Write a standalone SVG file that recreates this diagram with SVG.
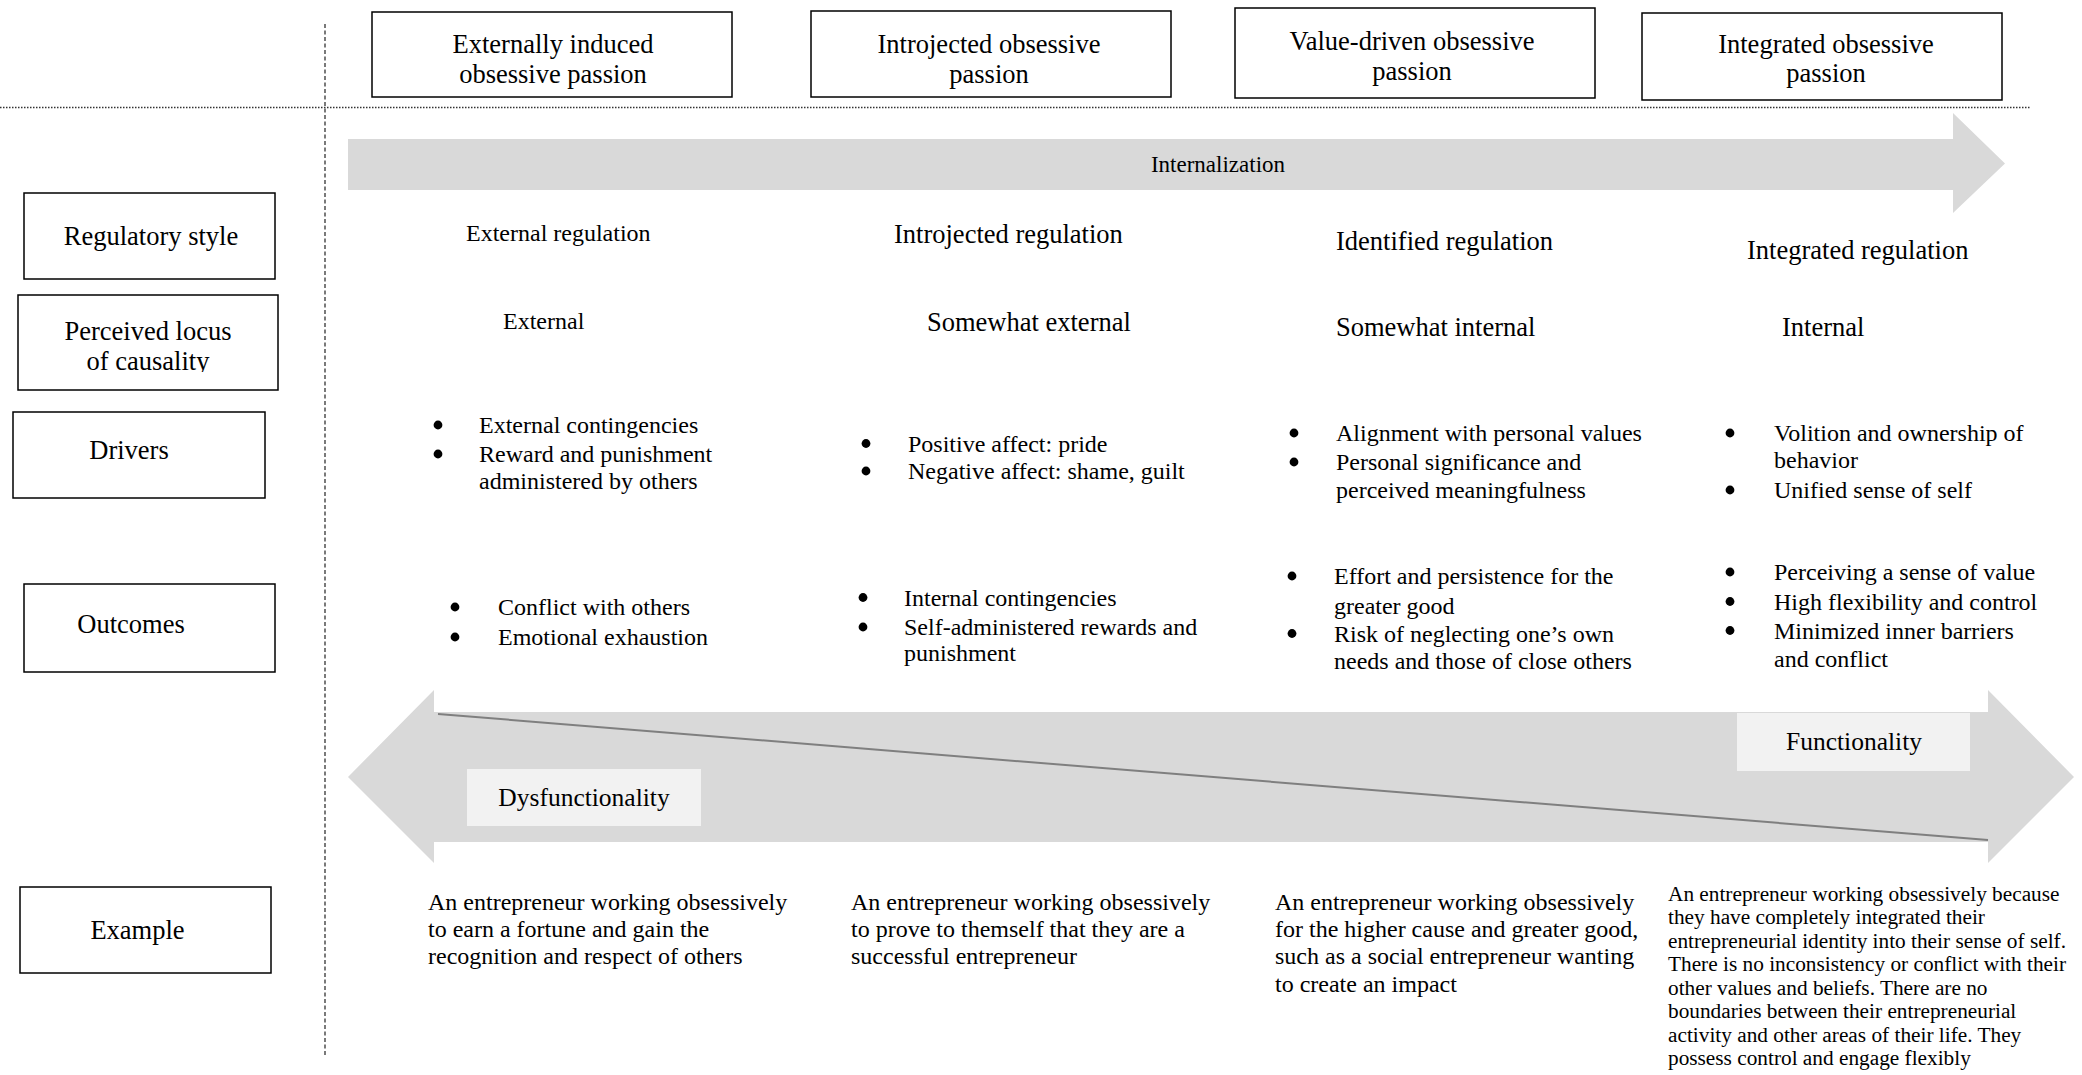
<svg xmlns="http://www.w3.org/2000/svg" width="2082" height="1075" viewBox="0 0 2082 1075">
<style>
  text { font-family: "Liberation Serif", "Times New Roman", serif; fill: #000; }
  .box { fill: #fff; stroke: #000; stroke-width: 1.5; }
  .lg { font-size: 26.5px; }
  .md { font-size: 24px; }
  .sm { font-size: 21.3px; }
  .mid { text-anchor: middle; }
  .dot { fill: #000; }
  .band { fill: #d9d9d9; }
  .tag { fill: #f2f2f2; }
  .guide { stroke: #333; stroke-width: 1.3; fill: none; }
</style>
<defs>
  <clipPath id="locusClip"><rect x="18" y="295" width="260" height="77"/></clipPath>
  <circle id="bullet" class="dot" r="4.4"/>
</defs>
<rect width="2082" height="1075" fill="#fff"/>

<!-- layout guides -->
<g id="guides">
  <line class="guide" x1="325" y1="24" x2="325" y2="1056" stroke-dasharray="4 2.5"/>
  <line class="guide" x1="0" y1="107.5" x2="2030" y2="107.5" stroke-dasharray="1.5 1.5"/>
</g>

<!-- passion type headers -->
<g id="hdr-external">
  <rect class="box" x="372" y="12" width="360" height="85"/>
  <text class="lg mid" x="553" y="53">Externally induced</text>
  <text class="lg mid" x="553" y="83">obsessive passion</text>
</g>
<g id="hdr-introjected">
  <rect class="box" x="811" y="11" width="360" height="86"/>
  <text class="lg mid" x="989" y="53">Introjected obsessive</text>
  <text class="lg mid" x="989" y="83">passion</text>
</g>
<g id="hdr-value">
  <rect class="box" x="1235" y="8" width="360" height="90"/>
  <text class="lg mid" x="1412" y="50">Value-driven obsessive</text>
  <text class="lg mid" x="1412" y="79.5">passion</text>
</g>
<g id="hdr-integrated">
  <rect class="box" x="1642" y="13" width="360" height="87"/>
  <text class="lg mid" x="1826" y="53">Integrated obsessive</text>
  <text class="lg mid" x="1826" y="82">passion</text>
</g>

<!-- row labels -->
<g id="lbl-regulatory">
  <rect class="box" x="24" y="193" width="251" height="86"/>
  <text class="lg mid" x="151" y="245">Regulatory style</text>
</g>
<g id="lbl-locus">
  <rect class="box" x="18" y="295" width="260" height="95"/>
  <g clip-path="url(#locusClip)">
    <text class="lg mid" x="148" y="340">Perceived locus</text>
    <text class="lg mid" x="148" y="370">of causality</text>
  </g>
</g>
<g id="lbl-drivers">
  <rect class="box" x="13" y="412" width="252" height="86"/>
  <text class="lg mid" x="129" y="459">Drivers</text>
</g>
<g id="lbl-outcomes">
  <rect class="box" x="24" y="584" width="251" height="88"/>
  <text class="lg mid" x="131" y="633">Outcomes</text>
</g>
<g id="lbl-example">
  <rect class="box" x="20" y="887" width="251" height="86"/>
  <text class="lg mid" x="137.5" y="938.5">Example</text>
</g>

<!-- arrows -->
<g id="connectors">
  <polygon id="internalization" class="band" points="348,139 1953,139 1953,113 2005,163.5 1953,213 1953,190 348,190"/>
  <text class="mid" x="1218" y="172" style="font-size:23px">Internalization</text>
  <polygon id="functionality-range" class="band" points="348,777 434,690 434,712 1988,712 1988,690 2074,777 1988,863 1988,842 434,842 434,863"/>
  <line x1="438" y1="714" x2="1988" y2="840" stroke="#7f7f7f" stroke-width="2"/>
</g>
<g id="tag-dysfunctionality">
  <rect class="tag" x="467" y="769" width="234" height="57"/>
  <text class="lg mid" x="584" y="806" style="font-size:25.5px">Dysfunctionality</text>
</g>
<g id="tag-functionality">
  <rect class="tag" x="1737" y="713" width="233" height="58"/>
  <text class="lg mid" x="1854" y="750" style="font-size:25.5px">Functionality</text>
</g>

<!-- regulatory style row -->
<g id="reg-1"><text class="md" x="466" y="241">External regulation</text></g>
<g id="reg-2"><text class="lg" x="894" y="243">Introjected regulation</text></g>
<g id="reg-3"><text class="lg" x="1336" y="249.5">Identified regulation</text></g>
<g id="reg-4"><text class="lg" x="1747" y="259">Integrated regulation</text></g>

<!-- locus row -->
<g id="loc-1"><text class="md" x="503" y="328.5">External</text></g>
<g id="loc-2"><text class="lg" x="927" y="330.5">Somewhat external</text></g>
<g id="loc-3"><text class="lg" x="1336" y="336">Somewhat internal</text></g>
<g id="loc-4"><text class="lg" x="1782" y="336">Internal</text></g>

<!-- drivers row -->
<g id="drv-1" class="md">
  <use href="#bullet" x="438" y="425"/>
  <text x="479" y="433">External contingencies</text>
  <use href="#bullet" x="438" y="454"/>
  <text x="479" y="462">Reward and punishment</text>
  <text x="479" y="489">administered by others</text>
</g>
<g id="drv-2" class="md">
  <use href="#bullet" x="866" y="443.5"/>
  <text x="908" y="451.5">Positive affect: pride</text>
  <use href="#bullet" x="866" y="471"/>
  <text x="908" y="479">Negative affect: shame, guilt</text>
</g>
<g id="drv-3" class="md">
  <use href="#bullet" x="1294" y="433"/>
  <text x="1336" y="441">Alignment with personal values</text>
  <use href="#bullet" x="1294" y="462"/>
  <text x="1336" y="470">Personal significance and</text>
  <text x="1336" y="498">perceived meaningfulness</text>
</g>
<g id="drv-4" class="md">
  <use href="#bullet" x="1730" y="433"/>
  <text x="1774" y="441">Volition and ownership of</text>
  <text x="1774" y="467.5">behavior</text>
  <use href="#bullet" x="1730" y="490"/>
  <text x="1774" y="498">Unified sense of self</text>
</g>

<!-- outcomes row -->
<g id="out-1" class="md">
  <use href="#bullet" x="455" y="607"/>
  <text x="498" y="615">Conflict with others</text>
  <use href="#bullet" x="455" y="637"/>
  <text x="498" y="645">Emotional exhaustion</text>
</g>
<g id="out-2" class="md">
  <use href="#bullet" x="863" y="597.5"/>
  <text x="904" y="605.5">Internal contingencies</text>
  <use href="#bullet" x="863" y="627"/>
  <text x="904" y="635">Self-administered rewards and</text>
  <text x="904" y="661">punishment</text>
</g>
<g id="out-3" class="md">
  <use href="#bullet" x="1292" y="576"/>
  <text x="1334" y="584">Effort and persistence for the</text>
  <text x="1334" y="613.5">greater good</text>
  <use href="#bullet" x="1292" y="633.5"/>
  <text x="1334" y="641.5">Risk of neglecting one’s own</text>
  <text x="1334" y="669">needs and those of close others</text>
</g>
<g id="out-4" class="md">
  <use href="#bullet" x="1730" y="572"/>
  <text x="1774" y="580">Perceiving a sense of value</text>
  <use href="#bullet" x="1730" y="601.5"/>
  <text x="1774" y="609.5">High flexibility and control</text>
  <use href="#bullet" x="1730" y="630.5"/>
  <text x="1774" y="638.5">Minimized inner barriers</text>
  <text x="1774" y="666.5">and conflict</text>
</g>

<!-- example row -->
<g id="ex-1" class="md">
  <text x="428" y="910">An entrepreneur working obsessively</text>
  <text x="428" y="936.5">to earn a fortune and gain the</text>
  <text x="428" y="964">recognition and respect of others</text>
</g>
<g id="ex-2" class="md">
  <text x="851" y="910">An entrepreneur working obsessively</text>
  <text x="851" y="936.5">to prove to themself that they are a</text>
  <text x="851" y="964">successful entrepreneur</text>
</g>
<g id="ex-3" class="md">
  <text x="1275" y="910">An entrepreneur working obsessively</text>
  <text x="1275" y="936.5">for the higher cause and greater good,</text>
  <text x="1275" y="964">such as a social entrepreneur wanting</text>
  <text x="1275" y="992">to create an impact</text>
</g>
<g id="ex-4" class="sm">
  <text x="1668" y="900.5">An entrepreneur working obsessively because</text>
  <text x="1668" y="924">they have completely integrated their</text>
  <text x="1668" y="947.5">entrepreneurial identity into their sense of self.</text>
  <text x="1668" y="971">There is no inconsistency or conflict with their</text>
  <text x="1668" y="994.5">other values and beliefs. There are no</text>
  <text x="1668" y="1018">boundaries between their entrepreneurial</text>
  <text x="1668" y="1041.5">activity and other areas of their life. They</text>
  <text x="1668" y="1065">possess control and engage flexibly</text>
</g>
</svg>
